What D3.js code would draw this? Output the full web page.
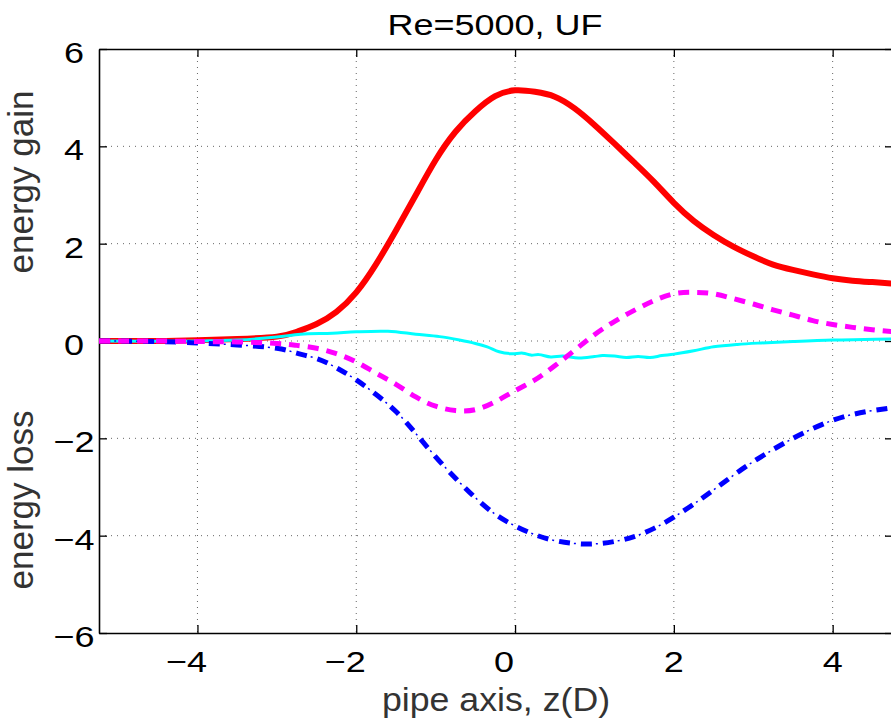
<!DOCTYPE html>
<html><head><meta charset="utf-8">
<script src="https://cdn.jsdelivr.net/npm/d3@7"></script>
<style>html,body{margin:0;padding:0;background:#fff;overflow:hidden}</style>
</head><body>
<svg id="chart" width="891" height="721"></svg>
<script>
const titleText = "Re=5000, UF";
const xLabel = "pipe axis, z(D)";
const yLabelTop = "energy gain";
const yLabelBottom = "energy loss";
const xTicks = [-4, -2, 0, 2, 4];
const yTicks = [-6, -4, -2, 0, 2, 4, 6];
const xDomain = [-5.24, 4.76];
const yDomain = [-6, 6];

const zGrid = [-5.24,-4.5,-4,-3.5,-3,-2.75,-2.5,-2.25,-2,-1.75,-1.5,-1.25,-1,-0.75,-0.5,-0.25,0,0.25,0.5,0.75,1,1.25,1.5,1.75,2,2.25,2.5,2.75,3,3.25,3.5,3.75,4,4.25,4.5,4.76];
const redV = [0,0,0.015,0.04,0.09,0.19,0.35,0.6,1.0,1.58,2.27,3.0,3.72,4.3,4.72,5.03,5.15,5.12,5.02,4.78,4.44,4.06,3.67,3.27,2.84,2.47,2.18,1.94,1.74,1.57,1.46,1.37,1.29,1.24,1.21,1.18];
const magentaV = [0,0,-0.01,-0.02,-0.05,-0.09,-0.15,-0.26,-0.43,-0.66,-0.89,-1.15,-1.34,-1.43,-1.41,-1.25,-1.02,-0.8,-0.51,-0.19,0.13,0.4,0.63,0.83,0.97,1.0,0.97,0.87,0.76,0.64,0.53,0.42,0.34,0.28,0.23,0.19];
const blueV = [0,-0.01,-0.04,-0.08,-0.15,-0.25,-0.36,-0.55,-0.8,-1.1,-1.45,-1.9,-2.38,-2.82,-3.22,-3.56,-3.8,-3.98,-4.1,-4.16,-4.17,-4.12,-4.02,-3.85,-3.62,-3.35,-3.06,-2.76,-2.48,-2.23,-2.0,-1.8,-1.63,-1.51,-1.43,-1.37];
const cyanZ = [-5.24,-4,-3.5,-3,-2.7,-2.3,-2,-1.6,-1.25,-0.95,-0.7,-0.5,-0.35,-0.2,-0.05,0.1,0.2,0.3,0.45,0.6,0.8,1.0,1.1,1.25,1.4,1.55,1.7,1.85,2.0,2.25,2.5,2.8,3.1,3.5,4.0,4.4,4.76];
const cyanV = [0,0,0.02,0.08,0.14,0.16,0.19,0.2,0.14,0.09,0.02,-0.05,-0.12,-0.22,-0.26,-0.25,-0.29,-0.28,-0.33,-0.31,-0.35,-0.32,-0.3,-0.31,-0.34,-0.32,-0.34,-0.3,-0.27,-0.2,-0.12,-0.07,-0.04,-0.01,0.02,0.03,0.04];

const svg = d3.select("#chart");
const L = 99, T = 49, R = 893, B = 633;
const x = d3.scaleLinear().domain(xDomain).range([L, R]);
const y = d3.scaleLinear().domain(yDomain).range([B, T]);
const font = "'Liberation Sans', Arial, Helvetica, sans-serif";

// grid
const grid = svg.append("g").attr("stroke", "#666").attr("stroke-width", 1).attr("stroke-dasharray", "1,5");
xTicks.forEach(t => grid.append("line").attr("x1", x(t)).attr("x2", x(t)).attr("y1", T).attr("y2", B));
yTicks.filter(t => t > yDomain[0] && t < yDomain[1]).forEach(t => grid.append("line").attr("x1", L).attr("x2", R).attr("y1", y(t)).attr("y2", y(t)));

// axes with inward ticks
const axB = d3.axisBottom(x).tickValues(xTicks).tickSizeInner(-8).tickSizeOuter(0).tickFormat("");
const axT = d3.axisTop(x).tickValues(xTicks).tickSizeInner(-8).tickSizeOuter(0).tickFormat("");
const axL = d3.axisLeft(y).tickValues(yTicks).tickSizeInner(-8).tickSizeOuter(0).tickFormat("");
const axR = d3.axisRight(y).tickValues(yTicks).tickSizeInner(-8).tickSizeOuter(0).tickFormat("");
[[axB, `translate(0,${B})`], [axT, `translate(0,${T})`], [axL, `translate(${L},0)`], [axR, `translate(${R},0)`]].forEach(([a, tr]) => {
  const g = svg.append("g").attr("transform", tr).call(a);
  g.selectAll("path").attr("stroke", "#000").attr("stroke-width", 1.6);
  g.selectAll("line").attr("stroke", "#000").attr("stroke-width", 1.3);
});

// curves
const smooth = d3.line().x(d => x(d[0])).y(d => y(d[1])).curve(d3.curveNatural);
const wavy = d3.line().x(d => x(d[0])).y(d => y(d[1])).curve(d3.curveCatmullRom.alpha(0.5));
const zip = (zs, vs) => zs.map((z, i) => [z, vs[i]]);
const plot = svg.append("g");
plot.append("path").attr("d", smooth(zip(zGrid, redV))).attr("fill", "none").attr("stroke", "#ff0000").attr("stroke-width", 6);
plot.append("path").attr("d", wavy(zip(cyanZ, cyanV))).attr("fill", "none").attr("stroke", "#00ffff").attr("stroke-width", 3);
plot.append("path").attr("d", smooth(zip(zGrid, blueV))).attr("fill", "none").attr("stroke", "#0000ff").attr("stroke-width", 5).attr("stroke-dasharray", "11,11");
plot.append("path").attr("d", smooth(zip(zGrid, blueV))).attr("fill", "none").attr("stroke", "#0000ff").attr("stroke-width", 1.5).attr("stroke-dasharray", "2,20").attr("stroke-dashoffset", 7);
plot.append("path").attr("d", smooth(zip(zGrid, magentaV))).attr("fill", "none").attr("stroke", "#ff00ff").attr("stroke-width", 5).attr("stroke-dasharray", "11,8");

// tick labels
const tl = svg.append("g").attr("font-family", font).attr("font-size", 30).attr("fill", "#000").attr("text-anchor", "middle");
xTicks.forEach(t => {
  const cx = x(t) + (t <= 0 ? -11 : 0);
  tl.append("text").attr("transform", `translate(${cx},672) scale(1.2,1)`).text(t < 0 ? "\u2212" + Math.abs(t) : String(t));
});
yTicks.forEach(t => {
  tl.append("text").attr("transform", `translate(74,${y(t) + 14}) scale(1.2,1)`).text(t < 0 ? "\u2212" + Math.abs(t) : String(t));
});

// title and labels
svg.append("text").attr("transform", "translate(495,35) scale(1.2,1)").attr("font-family", font).attr("font-size", 30).attr("text-anchor", "middle").attr("fill", "#000").text(titleText);
svg.append("text").attr("transform", "translate(496,711) scale(1.05,1)").attr("font-family", font).attr("font-size", 34).attr("text-anchor", "middle").attr("fill", "#333").text(xLabel);
svg.append("text").attr("transform", "translate(33,182) rotate(-90)").attr("font-family", font).attr("font-size", 35).attr("text-anchor", "middle").attr("fill", "#333").text(yLabelTop);
svg.append("text").attr("transform", "translate(33,500) rotate(-90)").attr("font-family", font).attr("font-size", 35).attr("text-anchor", "middle").attr("fill", "#333").text(yLabelBottom);
</script>
</body></html>
